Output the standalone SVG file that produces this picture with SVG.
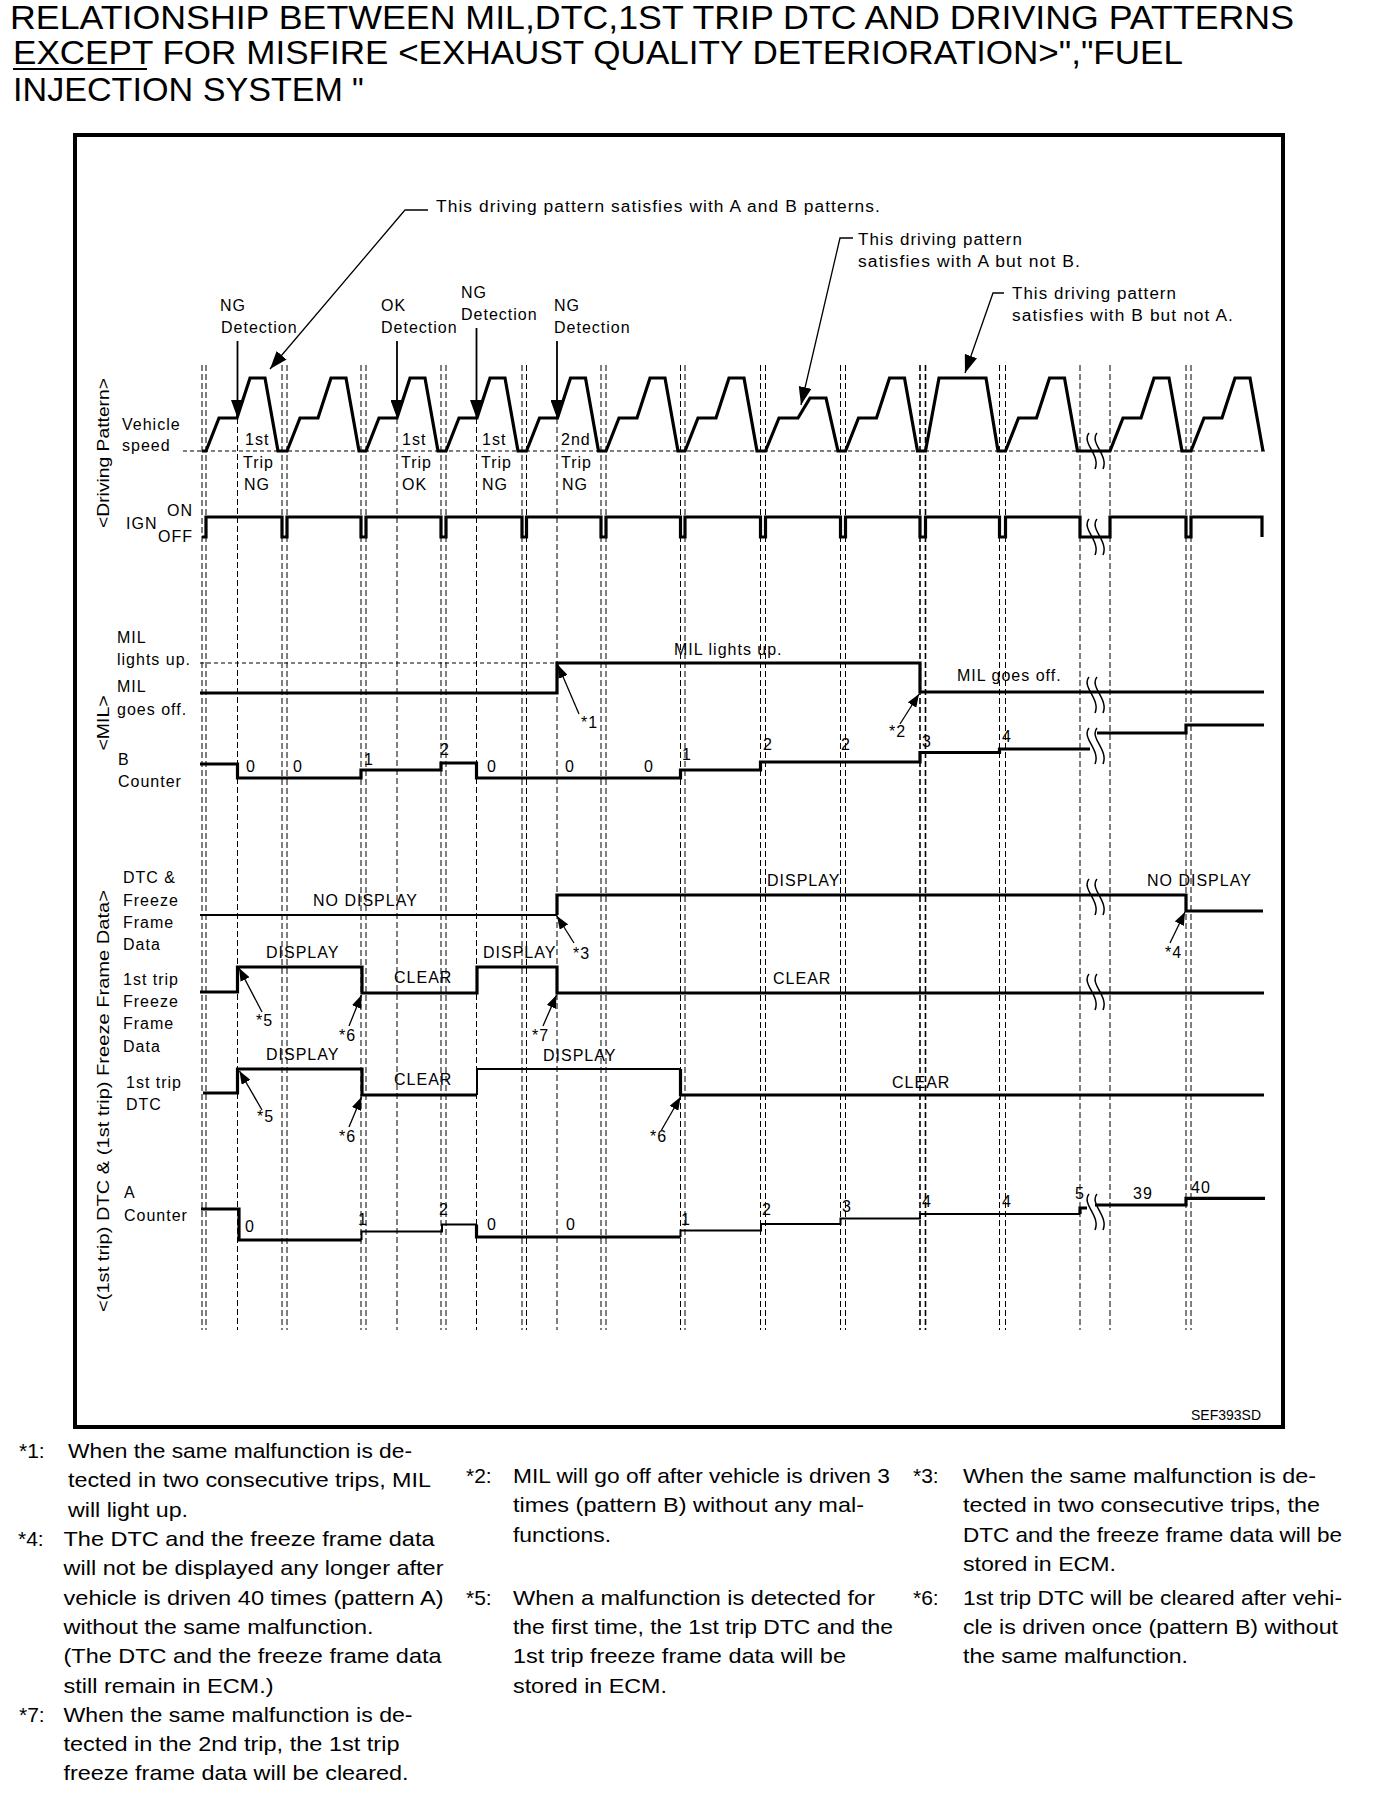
<svg xmlns="http://www.w3.org/2000/svg" width="1376" height="1800" viewBox="0 0 1376 1800">
<style>
text{font-family:"Liberation Sans",Arial,Helvetica,sans-serif;fill:#000}
.ttl{font-size:33px}
.lb{font-size:16px;letter-spacing:1px}
.rot{font-size:16px}
.fn{font-size:21px}
.sig{fill:none;stroke:#000;stroke-width:3.2;stroke-linejoin:miter}
.thin{fill:none;stroke:#000;stroke-width:2}
.grid line{stroke:#000;stroke-width:1;stroke-dasharray:6 3}
.dash{fill:none;stroke:#000;stroke-width:1.1;stroke-dasharray:4 3}
.ld{fill:none;stroke:#000;stroke-width:1.3}
.det{fill:none;stroke:#000;stroke-width:1.8}
.brk path{fill:none;stroke:#000;stroke-width:1.5}
</style>
<defs>
<marker id="ah" viewBox="0 0 13 10" refX="13" refY="5" markerWidth="13" markerHeight="10" markerUnits="userSpaceOnUse" orient="auto"><path d="M0,0 L13,5 L0,10 z"/></marker>
<marker id="ahb" viewBox="0 0 18 13" refX="18" refY="6.5" markerWidth="18" markerHeight="13" markerUnits="userSpaceOnUse" orient="auto"><path d="M0,0 L18,6.5 L0,13 z"/></marker>
<g id="brk" class="brk"><path d="M-4,-18 C-12,-8 8,4 2,18"/><path d="M4,-18 C-4,-8 16,4 10,18"/></g>
</defs>
<rect width="1376" height="1800" fill="#fff"/>

<g id="title">
<text class="ttl" x="10" y="29" textLength="1284" lengthAdjust="spacingAndGlyphs">RELATIONSHIP BETWEEN MIL,DTC,1ST TRIP DTC AND DRIVING PATTERNS</text>
<text class="ttl" x="13" y="64" textLength="1170" lengthAdjust="spacingAndGlyphs">EXCEPT FOR MISFIRE &lt;EXHAUST QUALITY DETERIORATION&gt;","FUEL</text>
<path d="M13,69 L147,69" stroke="#000" stroke-width="2"/>
<text class="ttl" x="13" y="101"><tspan textLength="330" lengthAdjust="spacingAndGlyphs">INJECTION SYSTEM</tspan><tspan x="352" y="101">"</tspan></text>
</g>

<g id="frame"><rect x="75" y="135" width="1208" height="1292" fill="none" stroke="#000" stroke-width="4"/></g>

<g id="grid" class="grid">
<line x1="202" y1="365" x2="202" y2="1330"/><line x1="206" y1="365" x2="206" y2="1330"/>
<line x1="282" y1="365" x2="282" y2="1330"/><line x1="287" y1="365" x2="287" y2="1330"/>
<line x1="361" y1="365" x2="361" y2="1330"/><line x1="366" y1="365" x2="366" y2="1330"/>
<line x1="441" y1="365" x2="441" y2="1330"/><line x1="446" y1="365" x2="446" y2="1330"/>
<line x1="522" y1="365" x2="522" y2="1330"/><line x1="526.5" y1="365" x2="526.5" y2="1330"/>
<line x1="601" y1="365" x2="601" y2="1330"/><line x1="606" y1="365" x2="606" y2="1330"/>
<line x1="680.5" y1="365" x2="680.5" y2="1330"/><line x1="685" y1="365" x2="685" y2="1330"/>
<line x1="760.5" y1="365" x2="760.5" y2="1330"/><line x1="765.5" y1="365" x2="765.5" y2="1330"/>
<line x1="840.5" y1="365" x2="840.5" y2="1330"/><line x1="845.5" y1="365" x2="845.5" y2="1330"/>
<line x1="920" y1="365" x2="920" y2="1330" style="stroke-width:1.6"/><line x1="925.5" y1="365" x2="925.5" y2="1330" style="stroke-width:1.6"/>
<line x1="999.5" y1="365" x2="999.5" y2="1330"/><line x1="1005.5" y1="365" x2="1005.5" y2="1330"/>
<line x1="1080" y1="365" x2="1080" y2="1330"/><line x1="1110" y1="365" x2="1110" y2="1330"/>
<line x1="1186" y1="365" x2="1186" y2="1330"/><line x1="1191" y1="365" x2="1191" y2="1330"/>
<line x1="237.5" y1="418" x2="237.5" y2="1330"/>
<line x1="397" y1="418" x2="397" y2="1330"/>
<line x1="476.5" y1="418" x2="476.5" y2="1330"/>
<line x1="557" y1="418" x2="557" y2="1330"/>
</g>

<g id="labels-left">
<text class="rot" transform="translate(108.5,453) rotate(-90)" text-anchor="middle" textLength="150" lengthAdjust="spacingAndGlyphs">&lt;Driving Pattern&gt;</text>
<text class="rot" transform="translate(108.5,723) rotate(-90)" text-anchor="middle" textLength="55" lengthAdjust="spacingAndGlyphs">&lt;MIL&gt;</text>
<text class="rot" transform="translate(108.5,1101) rotate(-90)" text-anchor="middle" textLength="422" lengthAdjust="spacingAndGlyphs">&lt;(1st trip) DTC &amp; (1st trip) Freeze Frame Data&gt;</text>
</g>

<g id="driving-pattern">
<text class="lb" x="122" y="430">Vehicle</text>
<text class="lb" x="122" y="451">speed</text>
<path class="dash" d="M183,451 L1266,451"/>
<path class="sig" d="M202,451 L206,451 L219,418 L237,418 L250,378 L265,378 L278,451 L287,451 L300,418 L318,418 L331,378 L346,378 L359,451 L366,451 L379,418 L397,418 L410,378 L425,378 L438,451 L446,451 L459,418 L477,418 L490,378 L505,378 L518,451 L526.5,451 L539.5,418 L557.5,418 L570.5,378 L585.5,378 L598.5,451 L606,451 L619,418 L637,418 L650,378 L665,378 L678,451 L685,451 L698,418 L716,418 L729,378 L744,378 L757,451 L765.5,451 L779,418 L798,418 L810,398 L826,398 L838,451 L845.5,451 L858.5,418 L876.5,418 L889.5,378 L904.5,378 L917.5,451 L925.5,451 L939,378 L986,378 L998,451 L1005.5,451 L1018.5,418 L1036.5,418 L1049.5,378 L1064.5,378 L1077.5,451 L1110,451 L1123,418 L1141,418 L1154,378 L1169,378 L1182,451 L1191,451 L1204,418 L1222,418 L1235,378 L1250,378 L1263,451"/>
<use href="#brk" x="1093" y="451"/>
<text class="lb" x="220" y="311">NG</text><text class="lb" x="221" y="333">Detection</text>
<text class="lb" x="381" y="311">OK</text><text class="lb" x="381" y="333">Detection</text>
<text class="lb" x="461" y="298">NG</text><text class="lb" x="461" y="320">Detection</text>
<text class="lb" x="554" y="311">NG</text><text class="lb" x="554" y="333">Detection</text>
<text class="lb" x="245" y="445">1st</text><text class="lb" x="243" y="468">Trip</text><text class="lb" x="244" y="490">NG</text>
<text class="lb" x="402" y="445">1st</text><text class="lb" x="401" y="468">Trip</text><text class="lb" x="402" y="490">OK</text>
<text class="lb" x="482" y="445">1st</text><text class="lb" x="481" y="468">Trip</text><text class="lb" x="482" y="490">NG</text>
<text class="lb" x="561" y="445">2nd</text><text class="lb" x="561" y="468">Trip</text><text class="lb" x="562" y="490">NG</text>
<text class="lb" x="436" y="212" textLength="445" lengthAdjust="spacingAndGlyphs">This driving pattern satisfies with A and B patterns.</text>
<text class="lb" x="858" y="245" textLength="165" lengthAdjust="spacingAndGlyphs">This driving pattern</text>
<text class="lb" x="858" y="267" textLength="223" lengthAdjust="spacingAndGlyphs">satisfies with A but not B.</text>
<text class="lb" x="1012" y="299" textLength="165" lengthAdjust="spacingAndGlyphs">This driving pattern</text>
<text class="lb" x="1012" y="321" textLength="222" lengthAdjust="spacingAndGlyphs">satisfies with B but not A.</text>
</g>

<g id="ign">
<text class="lb" x="126" y="529">IGN</text>
<text class="lb" x="167" y="516">ON</text>
<text class="lb" x="158" y="542">OFF</text>
<path class="sig" d="M202,537 L206,537 L206,517 L282,517 L282,537 L287,537 L287,517 L361,517 L361,537 L366,537 L366,517 L441,517 L441,537 L446,537 L446,517 L522,517 L522,537 L526.5,537 L526.5,517 L601,517 L601,537 L606,537 L606,517 L680.5,517 L680.5,537 L685,537 L685,517 L760.5,517 L760.5,537 L765.5,537 L765.5,517 L840.5,517 L840.5,537 L845.5,537 L845.5,517 L920,517 L920,537 L925.5,537 L925.5,517 L999.5,517 L999.5,537 L1005.5,537 L1005.5,517 L1080,517 L1080,537 L1110,537 L1110,517 L1186,517 L1186,537 L1191,537 L1191,517 L1262,517 L1262,537"/>
<use href="#brk" x="1093" y="537"/>
</g>

<g id="mil">
<text class="lb" x="117" y="643">MIL</text>
<text class="lb" x="117" y="665">lights up.</text>
<text class="lb" x="117" y="692">MIL</text>
<text class="lb" x="117" y="715">goes off.</text>
<path class="dash" d="M200,663 L557,663"/>
<path class="sig" d="M200,693 L557,693 L557,663 L920,663 L920,692 L1264,692"/>
<use href="#brk" x="1093" y="695"/>
<text class="lb" x="674" y="655">MIL lights up.</text>
<text class="lb" x="957" y="681">MIL goes off.</text>
<text class="lb" x="581" y="728">*1</text>
<text class="lb" x="889" y="737">*2</text>
</g>

<g id="b-counter">
<text class="lb" x="118" y="765">B</text>
<text class="lb" x="118" y="787">Counter</text>
<path class="sig" d="M200,764 L237.5,764 L237.5,778 L361,778 L361,770 L441,770 L441,763 L476.5,763 L476.5,778 L680.5,778 L680.5,770 L760.5,770 L760.5,762 L920,762 L920,752.5 L999.5,752.5 L999.5,749 L1090,749 M1097,733 L1186,733 L1186,725 L1264,725"/>
<use href="#brk" x="1093" y="746"/>
<text class="lb" x="246" y="772">0</text><text class="lb" x="293" y="772">0</text><text class="lb" x="364" y="765">1</text>
<text class="lb" x="440" y="755">2</text><text class="lb" x="487" y="772">0</text><text class="lb" x="565" y="772">0</text>
<text class="lb" x="644" y="772">0</text><text class="lb" x="682" y="760">1</text><text class="lb" x="763" y="750">2</text>
<text class="lb" x="841" y="750">2</text><text class="lb" x="922" y="747">3</text><text class="lb" x="1002" y="742">4</text>
</g>

<g id="dtc">
<text class="lb" x="123" y="883">DTC &amp;</text>
<text class="lb" x="123" y="906">Freeze</text>
<text class="lb" x="123" y="928">Frame</text>
<text class="lb" x="123" y="950">Data</text>
<path class="thin" d="M200,915 L557,915"/>
<path class="sig" d="M557,915 L557,895 L1186,895 L1186,911 L1263,911"/>
<use href="#brk" x="1093" y="897"/>
<text class="lb" x="313" y="906">NO DISPLAY</text>
<text class="lb" x="767" y="886">DISPLAY</text>
<text class="lb" x="1147" y="886">NO DISPLAY</text>
<text class="lb" x="573" y="959">*3</text>
<text class="lb" x="1165" y="958">*4</text>
</g>

<g id="freeze-frame">
<text class="lb" x="123" y="985">1st trip</text>
<text class="lb" x="123" y="1007">Freeze</text>
<text class="lb" x="123" y="1029">Frame</text>
<text class="lb" x="123" y="1052">Data</text>
<path class="sig" d="M200,992 L237.5,992 L237.5,967 L362,967 L362,993 L477,993 L477,967 L557,967 L557,993 L1264,993"/>
<use href="#brk" x="1093" y="992"/>
<text class="lb" x="266" y="958">DISPLAY</text>
<text class="lb" x="394" y="983">CLEAR</text>
<text class="lb" x="483" y="958">DISPLAY</text>
<text class="lb" x="773" y="984">CLEAR</text>
<text class="lb" x="256" y="1026">*5</text>
<text class="lb" x="339" y="1041">*6</text>
<text class="lb" x="532" y="1041">*7</text>
</g>

<g id="trip-dtc">
<text class="lb" x="126" y="1088">1st trip</text>
<text class="lb" x="126" y="1110">DTC</text>
<path class="sig" d="M203,1093 L237.5,1093 L237.5,1069 L362,1069 L362,1095 L477,1095"/>
<path class="thin" d="M477,1095 L477,1069 L680.5,1069"/>
<path class="sig" d="M680.5,1069 L680.5,1095 L1264,1095"/>
<text class="lb" x="266" y="1060">DISPLAY</text>
<text class="lb" x="394" y="1085">CLEAR</text>
<text class="lb" x="543" y="1061">DISPLAY</text>
<text class="lb" x="892" y="1088">CLEAR</text>
<text class="lb" x="257" y="1122">*5</text>
<text class="lb" x="339" y="1142">*6</text>
<text class="lb" x="650" y="1142">*6</text>
</g>

<g id="a-counter">
<text class="lb" x="124" y="1198">A</text>
<text class="lb" x="124" y="1221">Counter</text>
<path class="sig" d="M201,1209 L239,1209 L239,1240 L361.5,1240"/>
<path class="thin" d="M361.5,1240 L361.5,1231.5 L442,1231.5 L442,1224.5 L476.5,1224.5"/>
<path class="sig" d="M476.5,1224.5 L476.5,1237 L680.5,1237"/>
<path class="thin" d="M680.5,1237 L680.5,1230.5 L761,1230.5 L761,1224 L840.5,1224 L840.5,1218.5 L920,1218.5 L920,1214 L1080,1214"/>
<path class="sig" d="M1080,1214 L1080,1208 L1087,1208 M1095,1205 L1186,1205 L1186,1198.3 L1265,1198.3"/>
<use href="#brk" x="1093" y="1212"/>
<text class="lb" x="245" y="1232">0</text><text class="lb" x="358" y="1225">1</text><text class="lb" x="439" y="1215">2</text>
<text class="lb" x="487" y="1230">0</text><text class="lb" x="566" y="1230">0</text><text class="lb" x="681" y="1225">1</text>
<text class="lb" x="762" y="1215">2</text><text class="lb" x="842" y="1212">3</text><text class="lb" x="922" y="1207">4</text>
<text class="lb" x="1002" y="1207">4</text><text class="lb" x="1075" y="1199">5</text>
<text class="lb" x="1133" y="1199">39</text><text class="lb" x="1191" y="1193">40</text>
<text x="1191" y="1420" style="font-size:14px" textLength="70" lengthAdjust="spacingAndGlyphs">SEF393SD</text>
</g>

<g id="connectors">
<path class="ld" d="M428,210 L405,210 L270,369" marker-end="url(#ahb)"/>
<path class="ld" d="M853,238 L840,238 L801,405" marker-end="url(#ahb)"/>
<path class="ld" d="M1004,293 L993,293 L965,373" marker-end="url(#ahb)"/>
<path class="det" d="M237.5,341 L237.5,418" marker-end="url(#ahb)"/>
<path class="det" d="M397,341 L397,418" marker-end="url(#ahb)"/>
<path class="det" d="M476.5,328 L476.5,418" marker-end="url(#ahb)"/>
<path class="det" d="M557,341 L557,418" marker-end="url(#ahb)"/>
<path class="ld" d="M579,714 L558,665" marker-end="url(#ah)"/>
<path class="ld" d="M900,724 L919,694" marker-end="url(#ah)"/>
<path class="ld" d="M574,943 L557,916" marker-end="url(#ah)"/>
<path class="ld" d="M1170,943 L1185,912" marker-end="url(#ah)"/>
<path class="ld" d="M262,1012 L239,968" marker-end="url(#ah)"/>
<path class="ld" d="M349,1026 L361.5,995" marker-end="url(#ah)"/>
<path class="ld" d="M543,1026 L556.5,995" marker-end="url(#ah)"/>
<path class="ld" d="M262,1110 L239.5,1071" marker-end="url(#ah)"/>
<path class="ld" d="M349,1127 L361.5,1097" marker-end="url(#ah)"/>
<path class="ld" d="M661.5,1130 L680.5,1097" marker-end="url(#ah)"/>
</g>

<g id="notes">
<text class="fn" x="19" y="1458">*1:</text>
<text class="fn" x="68" y="1458" textLength="344" lengthAdjust="spacingAndGlyphs">When the same malfunction is de-</text>
<text class="fn" x="68" y="1487" textLength="363" lengthAdjust="spacingAndGlyphs">tected in two consecutive trips, MIL</text>
<text class="fn" x="68" y="1516.5" textLength="120" lengthAdjust="spacingAndGlyphs">will light up.</text>
<text class="fn" x="18" y="1546">*4:</text>
<text class="fn" x="63.5" y="1546" textLength="371" lengthAdjust="spacingAndGlyphs">The DTC and the freeze frame data</text>
<text class="fn" x="63.5" y="1575" textLength="380" lengthAdjust="spacingAndGlyphs">will not be displayed any longer after</text>
<text class="fn" x="63.5" y="1604.5" textLength="380" lengthAdjust="spacingAndGlyphs">vehicle is driven 40 times (pattern A)</text>
<text class="fn" x="63.5" y="1634" textLength="310" lengthAdjust="spacingAndGlyphs">without the same malfunction.</text>
<text class="fn" x="63.5" y="1663" textLength="378" lengthAdjust="spacingAndGlyphs">(The DTC and the freeze frame data</text>
<text class="fn" x="63.5" y="1692.5" textLength="210" lengthAdjust="spacingAndGlyphs">still remain in ECM.)</text>
<text class="fn" x="19" y="1722">*7:</text>
<text class="fn" x="63.5" y="1722" textLength="349" lengthAdjust="spacingAndGlyphs">When the same malfunction is de-</text>
<text class="fn" x="63.5" y="1751" textLength="336" lengthAdjust="spacingAndGlyphs">tected in the 2nd trip, the 1st trip</text>
<text class="fn" x="63.5" y="1780" textLength="345" lengthAdjust="spacingAndGlyphs">freeze frame data will be cleared.</text>

<text class="fn" x="466" y="1483">*2:</text>
<text class="fn" x="513" y="1483" textLength="377" lengthAdjust="spacingAndGlyphs">MIL will go off after vehicle is driven 3</text>
<text class="fn" x="513" y="1512" textLength="351" lengthAdjust="spacingAndGlyphs">times (pattern B) without any mal-</text>
<text class="fn" x="513" y="1541.5" textLength="98" lengthAdjust="spacingAndGlyphs">functions.</text>
<text class="fn" x="466" y="1604.5">*5:</text>
<text class="fn" x="513" y="1604.5" textLength="362" lengthAdjust="spacingAndGlyphs">When a malfunction is detected for</text>
<text class="fn" x="513" y="1634" textLength="380" lengthAdjust="spacingAndGlyphs">the first time, the 1st trip DTC and the</text>
<text class="fn" x="513" y="1663" textLength="333" lengthAdjust="spacingAndGlyphs">1st trip freeze frame data will be</text>
<text class="fn" x="513" y="1692.5" textLength="154" lengthAdjust="spacingAndGlyphs">stored in ECM.</text>

<text class="fn" x="913" y="1483">*3:</text>
<text class="fn" x="963" y="1483" textLength="353" lengthAdjust="spacingAndGlyphs">When the same malfunction is de-</text>
<text class="fn" x="963" y="1512" textLength="357" lengthAdjust="spacingAndGlyphs">tected in two consecutive trips, the</text>
<text class="fn" x="963" y="1541.5" textLength="379" lengthAdjust="spacingAndGlyphs">DTC and the freeze frame data will be</text>
<text class="fn" x="963" y="1570.5" textLength="153" lengthAdjust="spacingAndGlyphs">stored in ECM.</text>
<text class="fn" x="913" y="1604.5">*6:</text>
<text class="fn" x="963" y="1604.5" textLength="379" lengthAdjust="spacingAndGlyphs">1st trip DTC will be cleared after vehi-</text>
<text class="fn" x="963" y="1634" textLength="375" lengthAdjust="spacingAndGlyphs">cle is driven once (pattern B) without</text>
<text class="fn" x="963" y="1663" textLength="225" lengthAdjust="spacingAndGlyphs">the same malfunction.</text>
</g>
</svg>
